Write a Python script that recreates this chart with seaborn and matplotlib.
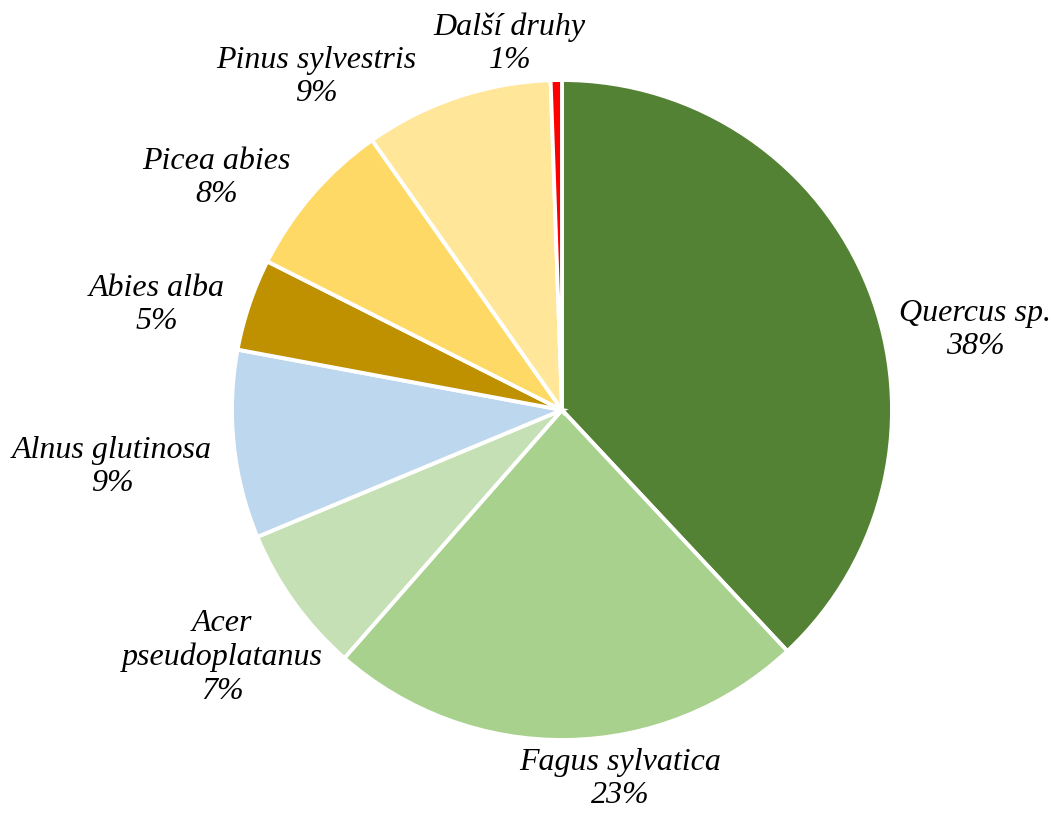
from matplotlib import pyplot as plt
import numpy as np
import seaborn as sns

sns.set_theme(style="white")
plt.rcParams['font.family'] = ['Liberation Serif', 'DejaVu Serif']

# species share of the stand (%), clockwise from 12 o'clock
species = ['Quercus sp.', 'Fagus sylvatica', 'Acer\npseudoplatanus', 'Alnus glutinosa',
           'Abies alba', 'Picea abies', 'Pinus sylvestris', 'Další druhy']
shares = [38.0, 23.4, 7.25, 9.2, 4.5, 7.8, 9.2, 0.55]
shown = ['38%', '23%', '7%', '9%', '5%', '8%', '9%', '1%']
colors = ['#548235', '#A9D18E', '#C5E0B4', '#BDD7EE', '#BF9000', '#FFD966', '#FFE699', '#FF0000']

# label centres (pie radius = 1)
label_pos = [(1.252, 0.242), (0.176, -1.118), (-1.03, -0.75), (-1.364, -0.173),
             (-1.227, 0.318), (-1.048, 0.703), (-0.745, 1.009), (-0.158, 1.109)]

fig = plt.figure(figsize=(10.53, 8.13), dpi=100)
ax = fig.add_axes([0, 0, 1, 1])

ax.pie(shares, colors=colors, startangle=90, counterclock=False,
       wedgeprops=dict(edgecolor='white', linewidth=2.8))

for name, pct, (x, y) in zip(species, shown, label_pos):
    ax.text(x, y, name + '\n' + pct, ha='center', va='center', fontsize=23,
            style='italic', linespacing=1.2, color='black')

# pie centre at (562, 410) px, radius ~330 px
W, H, R = 1053, 813, 330
cx, cy = 562, 410
ax.set_xlim(-cx / R, (W - cx) / R)
ax.set_ylim(-(H - cy) / R, cy / R)
ax.set_aspect('equal')
ax.axis('off')

fig.savefig('out.png', dpi=100)
